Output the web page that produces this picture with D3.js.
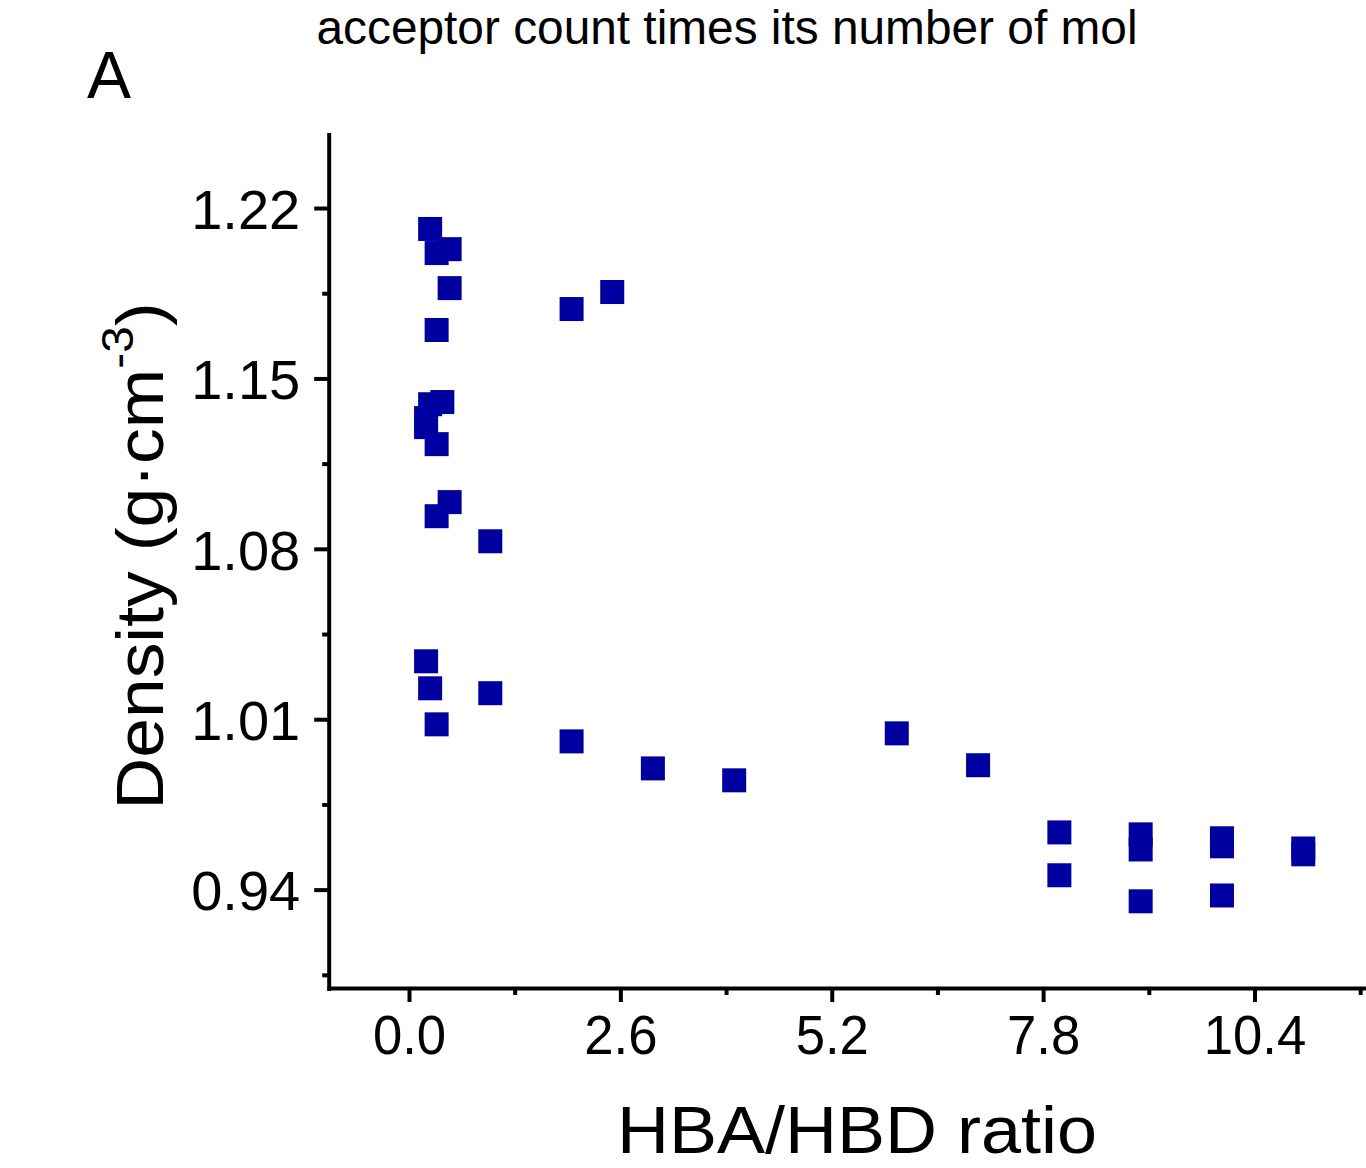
<!DOCTYPE html>
<html>
<head>
<meta charset="utf-8">
<script src="https://cdn.jsdelivr.net/npm/d3@7"></script>
<style>
  html, body { margin: 0; padding: 0; background: #fff; }
  svg { display: block; }
  text { font-family: "Liberation Sans", Arial, sans-serif; fill: #000; }
</style>
</head>
<body>
<svg id="chart" width="1366" height="1168"></svg>
<script>
// ---- data ----
const hbaHbdRatio = [0.26, 0.34, 0.50, 0.50, 0.34, 2.0, 2.5, 0.41, 0.26, 0.21, 0.21, 0.34,
  0.50, 0.34, 1.0, 0.21, 0.26, 1.0, 0.34, 2.0, 3.0, 4.0, 6.0, 7.0,
  8.0, 8.0, 9.0, 9.0, 9.0, 10.0, 10.0, 10.0, 11.0, 11.0];
const density = [1.2114, 1.2015, 1.2031, 1.1871, 1.1699, 1.1785, 1.1855, 1.1403, 1.1394, 1.1337, 1.1300, 1.1230,
  1.0992, 1.0934, 1.0831, 1.0338, 1.0227, 1.0207, 1.0079, 1.0009, 0.9898, 0.9849, 1.0042, 0.9911,
  0.9635, 0.9459, 0.9627, 0.9565, 0.9352, 0.9611, 0.9578, 0.9376, 0.9569, 0.9545];
const xMajorTicks = [0.0, 2.6, 5.2, 7.8, 10.4];
const xMinorTicks = [1.3, 3.9, 6.5, 9.1, 11.7];
const yMajorTicks = [0.94, 1.01, 1.08, 1.15, 1.22];
const yMinorTicks = [0.905, 0.975, 1.045, 1.115, 1.185];
const xDomain = [-1.0, 11.8];
const yDomain = [0.90, 1.25];
const titleText = "acceptor count times its number of mol";
const panelLabel = "A";
const xTitle = "HBA/HBD ratio";

// ---- layout ----
const svg = d3.select("#chart");
const x = d3.scaleLinear().domain(xDomain).range([327.7, 1368.3]);
const y = d3.scaleLinear().domain(yDomain).range([987, 135]);
const markerColor = "#0000A0";
const markerSize = 24;

// title
svg.append("text")
  .attr("x", 727).attr("y", 44)
  .attr("text-anchor", "middle")
  .attr("font-size", 48)
  .attr("textLength", 821).attr("lengthAdjust", "spacingAndGlyphs")
  .text(titleText);

// panel label
svg.append("text")
  .attr("x", 87).attr("y", 98)
  .attr("font-size", 66)
  .text(panelLabel);

// points
svg.append("g").selectAll("rect")
  .data(d3.range(hbaHbdRatio.length))
  .join("rect")
  .attr("x", i => x(hbaHbdRatio[i]) - markerSize / 2)
  .attr("y", i => y(density[i]) - markerSize / 2)
  .attr("width", markerSize)
  .attr("height", markerSize)
  .attr("fill", markerColor);

// x axis
const xAxisG = svg.append("g").attr("transform", `translate(0,${y(yDomain[0])})`);
xAxisG.call(d3.axisBottom(x).tickValues(xMajorTicks).tickFormat(d3.format(".1f")).tickSize(15).tickPadding(12))
  .call(g => g.select(".domain").remove());
xAxisG.selectAll(".tick line").attr("stroke", "#000").attr("stroke-width", 4);
xAxisG.selectAll(".tick text").attr("font-size", 56).attr("font-family", "Liberation Sans, Arial, sans-serif")
  .attr("transform", "scale(0.94,1)");
const xMinorG = svg.append("g").attr("transform", `translate(0,${y(yDomain[0])})`);
xMinorG.call(d3.axisBottom(x).tickValues(xMinorTicks).tickFormat("").tickSize(8))
  .call(g => g.select(".domain").remove());
xMinorG.selectAll(".tick line").attr("stroke", "#000").attr("stroke-width", 4);

// y axis
const yAxisG = svg.append("g").attr("transform", `translate(${x(xDomain[0]) + 1.5},0)`);
yAxisG.call(d3.axisLeft(y).tickValues(yMajorTicks).tickFormat(d3.format(".2f")).tickSize(15).tickPadding(14))
  .call(g => g.select(".domain").remove());
yAxisG.selectAll(".tick line").attr("stroke", "#000").attr("stroke-width", 4);
yAxisG.selectAll(".tick text").attr("font-size", 56).attr("font-family", "Liberation Sans, Arial, sans-serif").attr("dy", "0.36em");
const yMinorG = svg.append("g").attr("transform", `translate(${x(xDomain[0]) + 1.5},0)`);
yMinorG.call(d3.axisLeft(y).tickValues(yMinorTicks).tickFormat("").tickSize(7))
  .call(g => g.select(".domain").remove());
yMinorG.selectAll(".tick line").attr("stroke", "#000").attr("stroke-width", 4);

// axis lines
svg.append("line")
  .attr("x1", x(xDomain[0]) + 1.5).attr("x2", x(xDomain[0]) + 1.5)
  .attr("y1", y(yDomain[1]) - 2).attr("y2", y(yDomain[0]) + 4)
  .attr("stroke", "#000").attr("stroke-width", 4);
svg.append("line")
  .attr("x1", x(xDomain[0])).attr("x2", x(xDomain[1]))
  .attr("y1", y(yDomain[0]) + 1.5).attr("y2", y(yDomain[0]) + 1.5)
  .attr("stroke", "#000").attr("stroke-width", 4);

// x title
svg.append("text")
  .attr("x", 857).attr("y", 1153)
  .attr("text-anchor", "middle")
  .attr("font-size", 66)
  .attr("textLength", 480).attr("lengthAdjust", "spacingAndGlyphs")
  .text(xTitle);

// y title
const yt = svg.append("text")
  .attr("transform", "translate(163,556) rotate(-90)")
  .attr("text-anchor", "middle")
  .attr("font-size", 66)
  .attr("textLength", 507).attr("lengthAdjust", "spacingAndGlyphs");
yt.append("tspan").text("Density (g·cm");
yt.append("tspan").attr("font-size", 44).attr("dy", -30).text("-3");
yt.append("tspan").attr("dy", 30).text(")");
</script>
</body>
</html>
